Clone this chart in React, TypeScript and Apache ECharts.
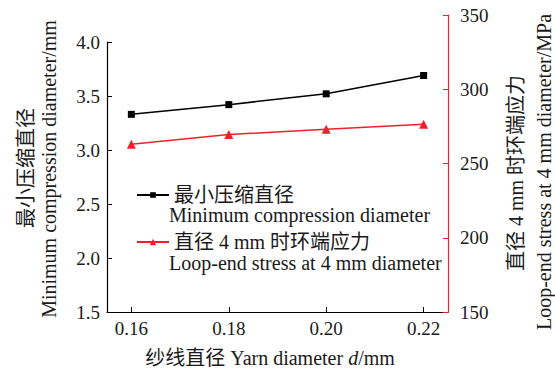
import React, { useEffect, useRef } from "react";
import * as echarts from "echarts";

const yarnDiameter = [0.16, 0.18, 0.2, 0.22];
const minCompressionDiameter = [3.33, 3.42, 3.52, 3.69];
const loopEndStress = [263, 269.5, 273, 276.5];
const xTickValues = [0.16, 0.18, 0.2, 0.22];

const seriesNames = ["最小压缩直径", "直径 4 mm 时环端应力"];
const seriesNamesEn = ["Minimum compression diameter", "Loop-end stress at 4 mm diameter"];
const leftAxisName = ["最小压缩直径", "Minimum compression diameter/mm"];
const rightAxisName = ["直径 4 mm 时环端应力", "Loop-end stress at 4 mm diameter/MPa"];

const FONT = '"Times New Roman", "Liberation Serif", "Noto Sans CJK SC", serif';
const TXT = "#1a1a1a";
const RED = "#f0202a";

export default function App() {
  const ref = useRef<HTMLDivElement>(null);
  useEffect(() => {
    if (!ref.current) return;
    const chart = echarts.init(ref.current, undefined, { renderer: "svg" });
    const xAxisBase = {
      type: "value" as const,
      min: 0.155,
      max: 0.225,
      splitLine: { show: false },
    };
    const legendText = { fontSize: 20, lineHeight: 20, color: TXT, fontFamily: FONT };
    chart.setOption({
      animation: false,
      backgroundColor: "#fff",
      textStyle: { fontFamily: FONT, color: TXT },
      grid: [
        { left: 107, right: 107, top: 42, bottom: 57 },
        { left: 107, right: 107, top: 15, bottom: 57 },
      ],
      xAxis: [
        {
          ...xAxisBase,
          gridIndex: 0,
          axisLine: { onZero: false, lineStyle: { color: "#000", width: 1.2 } },
          axisTick: { inside: true, length: 5, customValues: xTickValues, lineStyle: { color: "#000" } },
          axisLabel: {
            customValues: xTickValues,
            formatter: (v: number) => v.toFixed(2),
            fontSize: 19,
            color: TXT,
            fontFamily: FONT,
            margin: 7,
          },
        },
        { ...xAxisBase, gridIndex: 1, show: false },
      ],
      yAxis: [
        {
          type: "value",
          gridIndex: 0,
          min: 1.5,
          max: 4.0,
          interval: 0.5,
          splitLine: { show: false },
          axisLine: { show: true, lineStyle: { color: "#000", width: 1.2 } },
          axisTick: { inside: true, length: 5, lineStyle: { color: "#000" } },
          axisLabel: { formatter: (v: number) => v.toFixed(1), fontSize: 19, color: TXT, fontFamily: FONT, margin: 7 },
        },
        {
          type: "value",
          gridIndex: 1,
          position: "right",
          min: 150,
          max: 350,
          interval: 50,
          splitLine: { show: false },
          axisLine: { show: true, lineStyle: { color: RED, width: 1.2 } },
          axisTick: { inside: true, length: 5, lineStyle: { color: RED } },
          axisLabel: { fontSize: 19, color: TXT, fontFamily: FONT, margin: 12 },
        },
      ],
      legend: [
        {
          data: [seriesNames[0]],
          orient: "vertical",
          left: 131,
          top: 180,
          itemWidth: 32,
          itemHeight: 7,
          textStyle: legendText,
        },
        {
          data: [seriesNames[1]],
          orient: "vertical",
          left: 131,
          top: 227,
          itemWidth: 32,
          itemHeight: 8,
          textStyle: legendText,
        },
      ],
      series: [
        {
          name: seriesNames[0],
          type: "line",
          xAxisIndex: 0,
          yAxisIndex: 0,
          data: yarnDiameter.map((x, i) => [x, minCompressionDiameter[i]]),
          symbol: "rect",
          symbolSize: 7,
          itemStyle: { color: "#000" },
          lineStyle: { color: "#000", width: 1.5 },
        },
        {
          name: seriesNames[1],
          type: "line",
          xAxisIndex: 1,
          yAxisIndex: 1,
          data: yarnDiameter.map((x, i) => [x, loopEndStress[i]]),
          symbol: "triangle",
          symbolSize: 9,
          itemStyle: { color: RED },
          lineStyle: { color: RED, width: 1.5 },
        },
      ],
      graphic: [
        {
          type: "text",
          x: 169,
          y: 215,
          style: { text: seriesNamesEn[0], font: `20px ${FONT}`, lineHeight: 20, fill: TXT, verticalAlign: "middle", align: "left" },
        },
        {
          type: "text",
          x: 169,
          y: 263,
          style: { text: seriesNamesEn[1], font: `20px ${FONT}`, lineHeight: 20, fill: TXT, verticalAlign: "middle", align: "left" },
        },
        {
          type: "text",
          x: 26,
          y: 168,
          rotation: Math.PI / 2,
          style: { text: leftAxisName[0], font: `20px ${FONT}`, fill: TXT, verticalAlign: "middle", align: "center" },
        },
        {
          type: "text",
          x: 49,
          y: 169,
          rotation: Math.PI / 2,
          style: { text: leftAxisName[1], font: `20px ${FONT}`, fill: TXT, verticalAlign: "middle", align: "center" },
        },
        {
          type: "text",
          x: 516,
          y: 173,
          rotation: Math.PI / 2,
          style: { text: rightAxisName[0], font: `20px ${FONT}`, fill: TXT, verticalAlign: "middle", align: "center" },
        },
        {
          type: "text",
          x: 544,
          y: 172,
          rotation: Math.PI / 2,
          style: { text: rightAxisName[1], font: `20px ${FONT}`, fill: TXT, verticalAlign: "middle", align: "center" },
        },
        {
          type: "text",
          x: 270,
          y: 358,
          style: {
            text: "纱线直径 Yarn diameter {i|d}/mm",
            font: `20px ${FONT}`,
            lineHeight: 20,
            fill: TXT,
            verticalAlign: "middle",
            align: "center",
            rich: { i: { fontStyle: "italic", fontSize: 20, lineHeight: 20, fontFamily: FONT, fill: TXT } },
          },
        },
      ],
    });
    return () => chart.dispose();
  }, []);
  return (
    <div
      ref={ref}
      style={{ position: "fixed", left: 0, top: 0, width: 555, height: 369, background: "#fff" }}
    />
  );
}
